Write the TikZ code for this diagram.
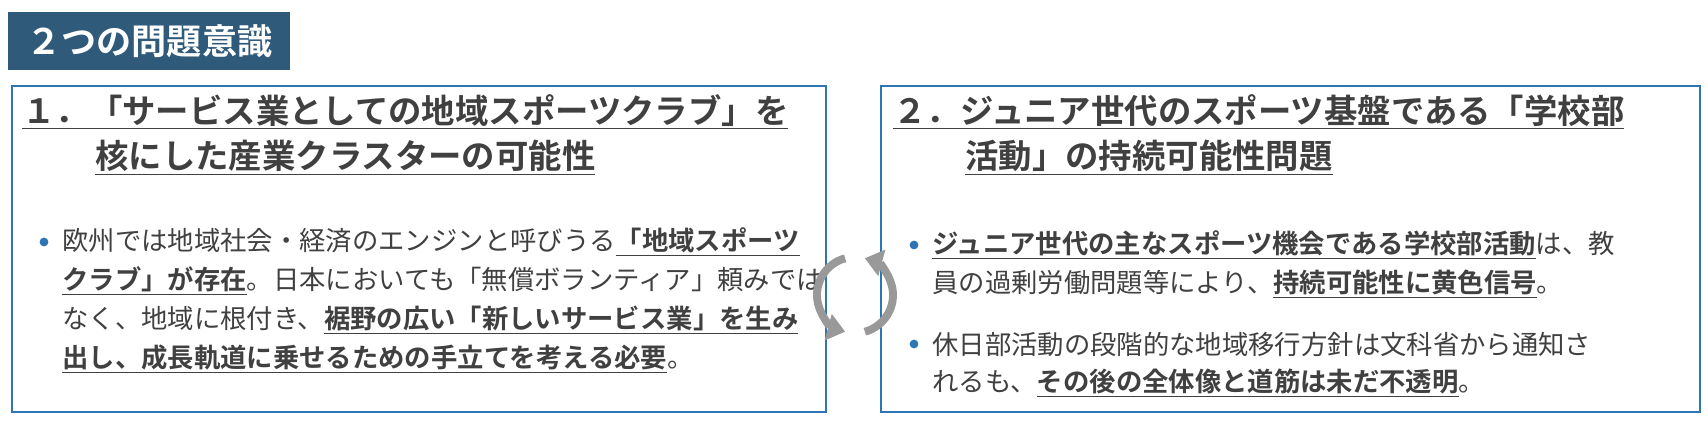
\documentclass[tikz,border=0pt]{standalone}
\usepackage{fontspec}
\setmainfont{Noto Sans CJK JP}[BoldFont={* Bold}]
\usetikzlibrary{arrows.meta}
\definecolor{titlebg}{HTML}{2F5A7A}
\definecolor{boxline}{HTML}{2E75B6}
\definecolor{txt}{HTML}{404040}
\definecolor{arrowgray}{HTML}{999999}
\newcommand{\bu}[1]{\underline{\textbf{#1}}}
\tikzset{
  panel/.style={draw=boxline,line width=1.2pt},
  head/.style={anchor=west,inner sep=0pt,text=txt,font=\fontsize{19}{22}\selectfont\bfseries},
  body/.style={anchor=west,inner sep=0pt,text=txt,font=\fontsize{15}{18}\selectfont},
  dot/.style={circle,fill=boxline,inner sep=0pt,minimum size=5pt},
  cycle/.style={draw=arrowgray,line width=4.5pt,-{Triangle[length=10pt,width=15pt]}}
}
\begin{document}
\begin{tikzpicture}[x=0.02cm,y=-0.02cm]
\useasboundingbox (0,0) rectangle (1708,432);
% title
\node[fill=titlebg,text=white,inner sep=0pt,
  font=\fontsize{20}{22}\selectfont\bfseries,anchor=north west,
  minimum width=5.64cm,minimum height=1.16cm] (title) at (8,12) {２つの問題意識};
% panels
\draw[panel] (12,86) rectangle (826,412);
\draw[panel] (881,86) rectangle (1700,412);
% left panel
\node[head] (lh1) at (22,112) {\underline{１．「サービス業としての地域スポーツクラブ」を}};
\node[head] (lh2) at (95,158) {\underline{核にした産業クラスターの可能性}};
\node[dot] (ld1) at (44,242) {};
\node[body] (lb1) at (62,242) {欧州では地域社会・経済のエンジンと呼びうる\bu{「地域スポーツ}};
\node[body] (lb2) at (62,281) {\bu{クラブ」が存在}。日本においても「無償ボランティア」頼みでは};
\node[body] (lb3) at (62,320) {なく、地域に根付き、\bu{裾野の広い「新しいサービス業」を生み}};
\node[body] (lb4) at (62,359) {\bu{出し、成長軌道に乗せるための手立てを考える必要}。};
% right panel
\node[head] (rh1) at (893,112) {\underline{２．ジュニア世代のスポーツ基盤である「学校部}};
\node[head] (rh2) at (965,158) {\underline{活動」の持続可能性問題}};
\node[dot] (rd1) at (914,245) {};
\node[body] (rb1) at (932,245) {\bu{ジュニア世代の主なスポーツ機会である学校部活動}は、教};
\node[body] (rb2) at (932,284) {員の過剰労働問題等により、\bu{持続可能性に黄色信号}。};
\node[dot] (rd2) at (914,344) {};
\node[body] (rb3) at (932,344) {休日部活動の段階的な地域移行方針は文科省から通知さ};
\node[body] (rb4) at (932,383) {れるも、\bu{その後の全体像と道筋は未だ不透明}。};
% cycle arrows
\coordinate (cyc) at (855,295);
\draw[cycle] ([shift={(255:38)}]cyc) arc[start angle=255,end angle=105,radius=38];
\draw[cycle] ([shift={(435:38)}]cyc) arc[start angle=435,end angle=285,radius=38];
\end{tikzpicture}
\end{document}
